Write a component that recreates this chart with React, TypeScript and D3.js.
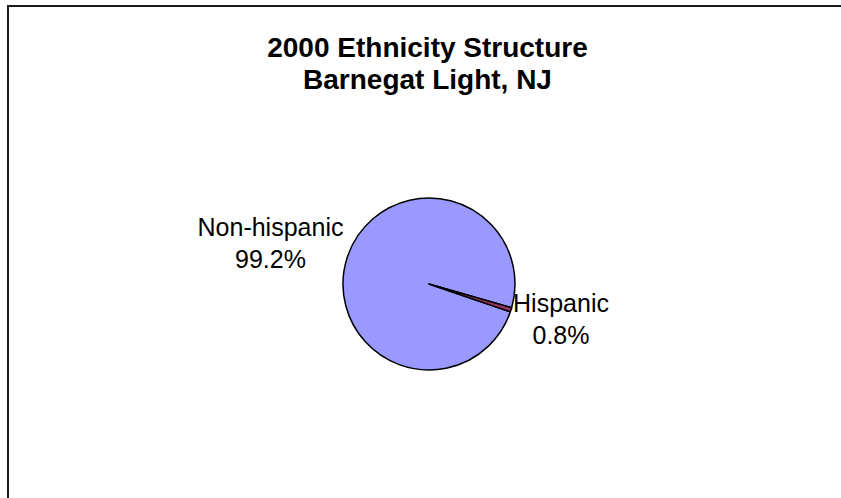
import React from "react";
import * as d3 from "d3";

const categories = ["Non-hispanic", "Hispanic"];
const values = [99.2, 0.8];
const labels = ["99.2%", "0.8%"];
const colors = ["#9999FF", "#993366"];
const titleLines = ["2000 Ethnicity Structure", "Barnegat Light, NJ"];

const W = 841;
const H = 498;
const cx = 429;
const cy = 284;
const R = 86;
const startDeg = -251.1;

export default function App() {
  const pie = d3
    .pie<number>()
    .sort(null)
    .startAngle((startDeg * Math.PI) / 180)
    .endAngle(((startDeg + 360) * Math.PI) / 180);
  const arcs = pie(values);
  const arc = d3.arc<d3.PieArcDatum<number>>().innerRadius(0).outerRadius(R);

  const labelPos = [
    { x: 270.5, y: 236 },
    { x: 561, y: 312 },
  ];

  return (
    <>
      <style>{`html,body{margin:0;padding:0;overflow:hidden;background:#fff}`}</style>
      <svg
        width={W}
        height={H}
        style={{ display: "block" }}
        fontFamily="'Liberation Sans', Arial, sans-serif"
      >
        <rect x={0} y={0} width={W} height={H} fill="#fff" />
        <line x1={8} y1={6} x2={W + 10} y2={6} stroke="#1a1a1a" strokeWidth={2} />
        <line x1={8} y1={5} x2={8} y2={H + 10} stroke="#1a1a1a" strokeWidth={2} />
        {titleLines.map((t, i) => (
          <text
            key={i}
            x={427.5}
            y={57 + i * 31.5}
            textAnchor="middle"
            fontSize={28}
            fontWeight="bold"
            fill="#000"
          >
            {t}
          </text>
        ))}
        <g transform={`translate(${cx},${cy})`}>
          {arcs.map((a, i) => (
            <path key={i} d={arc(a) || ""} fill={colors[i]} stroke="#000" strokeWidth={1.5} strokeLinejoin="round" />
          ))}
        </g>
        {categories.map((c, i) => (
          <g key={c}>
            <text x={labelPos[i].x} y={labelPos[i].y} textAnchor="middle" fontSize={25} fill="#000">
              {c}
            </text>
            <text x={labelPos[i].x} y={labelPos[i].y + 31.5} textAnchor="middle" fontSize={25} fill="#000">
              {labels[i]}
            </text>
          </g>
        ))}
      </svg>
    </>
  );
}
